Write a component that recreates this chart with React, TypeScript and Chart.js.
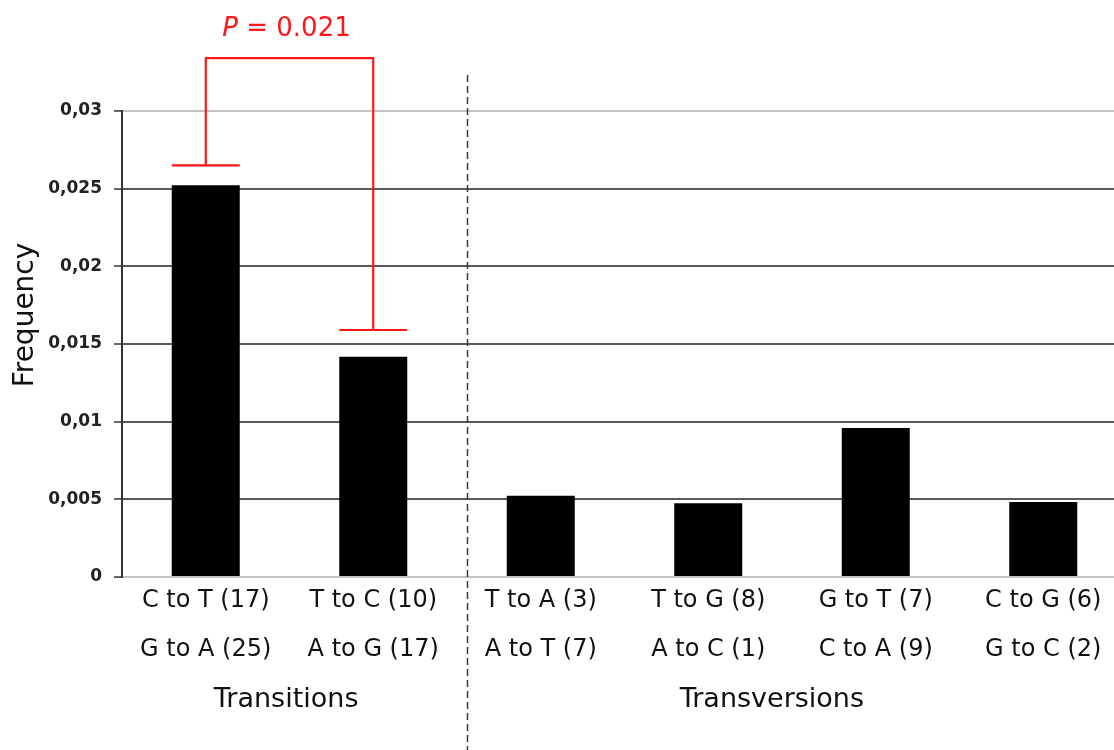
import React, { useEffect, useRef } from 'react';
import { Chart, registerables } from 'chart.js';

Chart.register(...registerables);

// Substitution classes, each shown with its two complementary counts
const categories: string[][] = [
  ['C to T (17)', 'G to A (25)'],
  ['T to C (10)', 'A to G (17)'],
  ['T to A (3)', 'A to T (7)'],
  ['T to G (8)', 'A to C (1)'],
  ['G to T (7)', 'C to A (9)'],
  ['C to G (6)', 'G to C (2)'],
];

const frequencies: number[] = [0.02522, 0.01418, 0.00523, 0.00474, 0.00959, 0.00483];

const yTickLabels: string[] = ['0', '0,005', '0,01', '0,015', '0,02', '0,025', '0,03'];

const groupLabels: string[] = ['Transitions', 'Transversions'];
// category-index positions where the group names are centred
const groupCenters: number[] = [0.48, 3.38];
// category-index position of the dashed divider between the groups
const dividerAt = 1.56;

// significance bracket between the two transition bars
const bracketBars: number[] = [0, 1];
const bracketCaps: number[] = [0.0265, 0.0159];
const bracketTop = 0.0334;
const pValue = '0.021';

const FONT = "'DejaVu Sans', sans-serif";

const annotationPlugin = {
  id: 'annotations',
  afterDraw(chart: any) {
    const { ctx, chartArea } = chart;
    const x = chart.scales.x;
    const y = chart.scales.y;
    const meta = chart.getDatasetMeta(0);
    ctx.save();

    // dashed divider between transitions and transversions
    const dx = Math.round(x.getPixelForValue(dividerAt)) + 0.5;
    ctx.beginPath();
    ctx.setLineDash([7, 4]);
    ctx.strokeStyle = '#3c3c3c';
    ctx.lineWidth = 1.5;
    ctx.moveTo(dx, chartArea.top - 36);
    ctx.lineTo(dx, chart.height);
    ctx.stroke();
    ctx.setLineDash([]);

    // group names under the tick labels
    ctx.fillStyle = '#111';
    ctx.font = `27px ${FONT}`;
    ctx.textAlign = 'center';
    ctx.textBaseline = 'alphabetic';
    groupLabels.forEach((label, i) => {
      ctx.fillText(label, x.getPixelForValue(groupCenters[i]), chartArea.bottom + 130);
    });

    // y-axis title
    ctx.save();
    ctx.translate(chartArea.left - 89, (chartArea.top + chartArea.bottom) / 2 - 29);
    ctx.rotate(-Math.PI / 2);
    ctx.font = `28px ${FONT}`;
    ctx.fillStyle = '#111';
    ctx.textAlign = 'center';
    ctx.fillText('Frequency', 0, 0);
    ctx.restore();

    // significance bracket
    const lx = x.getPixelForValue(bracketBars[0]);
    const rx = x.getPixelForValue(bracketBars[1]);
    const hwL = meta.data[bracketBars[0]].width / 2;
    const hwR = meta.data[bracketBars[1]].width / 2;
    const yl = y.getPixelForValue(bracketCaps[0]);
    const yr = y.getPixelForValue(bracketCaps[1]);
    const yt = y.getPixelForValue(bracketTop);
    ctx.strokeStyle = '#ff1616';
    ctx.lineWidth = 2.2;
    ctx.lineJoin = 'round';
    ctx.beginPath();
    ctx.moveTo(lx - hwL, yl);
    ctx.lineTo(lx + hwL, yl);
    ctx.moveTo(lx, yl);
    ctx.lineTo(lx, yt);
    ctx.lineTo(rx, yt);
    ctx.lineTo(rx, yr);
    ctx.moveTo(rx - hwR, yr);
    ctx.lineTo(rx + hwR, yr);
    ctx.stroke();

    // p-value label: italic P followed by the value
    const italic = `italic 26px ${FONT}`;
    const normal = `26px ${FONT}`;
    const rest = ` = ${pValue}`;
    ctx.font = italic;
    const wP = ctx.measureText('P').width;
    ctx.font = normal;
    const wR = ctx.measureText(rest).width;
    const startX = (lx + rx) / 2 - (wP + wR) / 2 - 3;
    const baseY = yt - 22;
    ctx.fillStyle = '#ff1616';
    ctx.textAlign = 'left';
    ctx.font = italic;
    ctx.fillText('P', startX, baseY);
    ctx.font = normal;
    ctx.fillText(rest, startX + wP, baseY);

    ctx.restore();
  },
};

export default function App() {
  const canvasRef = useRef<HTMLCanvasElement | null>(null);

  useEffect(() => {
    if (!canvasRef.current) return;
    const chart = new Chart(canvasRef.current, {
      type: 'bar',
      data: {
        labels: categories,
        datasets: [
          {
            data: frequencies,
            backgroundColor: '#000000',
            borderWidth: 0,
            categoryPercentage: 1,
            barPercentage: 0.406,
          },
        ],
      },
      options: {
        responsive: false,
        animation: false,
        devicePixelRatio: 1,
        layout: { padding: { top: 111, left: 0, right: 0, bottom: 0 } },
        plugins: {
          legend: { display: false },
          tooltip: { enabled: false },
        },
        scales: {
          x: {
            grid: { display: false },
            border: { display: false },
            ticks: {
              color: '#111',
              font: { family: FONT, size: 24, lineHeight: '49px' as any },
              padding: -9,
              maxRotation: 0,
              minRotation: 0,
              autoSkip: false,
            },
            afterFit: (s: any) => {
              s.height = 173;
              s.paddingLeft = 0;
              s.paddingRight = 0;
            },
          },
          y: {
            min: 0,
            max: 0.03,
            ticks: {
              stepSize: 0.005,
              callback: (_v: any, i: number) => yTickLabels[i],
              color: '#222',
              font: { family: FONT, size: 17, weight: 'bold' },
              padding: 12,
            },
            grid: {
              color: (c: any) =>
                c.index === 0 || c.index === yTickLabels.length - 1 ? '#c2c2c2' : '#5a5a5a',
              lineWidth: 2,
              tickLength: 8,
              tickColor: '#333',
              tickWidth: 1.5,
            },
            border: { color: '#333', width: 2 },
            afterFit: (s: any) => {
              s.width = 122;
              s.paddingTop = 0;
              s.paddingBottom = 0;
            },
          },
        },
      },
      plugins: [annotationPlugin],
    });
    return () => chart.destroy();
  }, []);

  return (
    <div
      style={{
        position: 'fixed',
        left: 0,
        top: 0,
        width: 1114,
        height: 750,
        overflow: 'hidden',
        background: '#fff',
      }}
    >
      <canvas ref={canvasRef} width={1127} height={750} style={{ display: 'block' }} />
    </div>
  );
}
